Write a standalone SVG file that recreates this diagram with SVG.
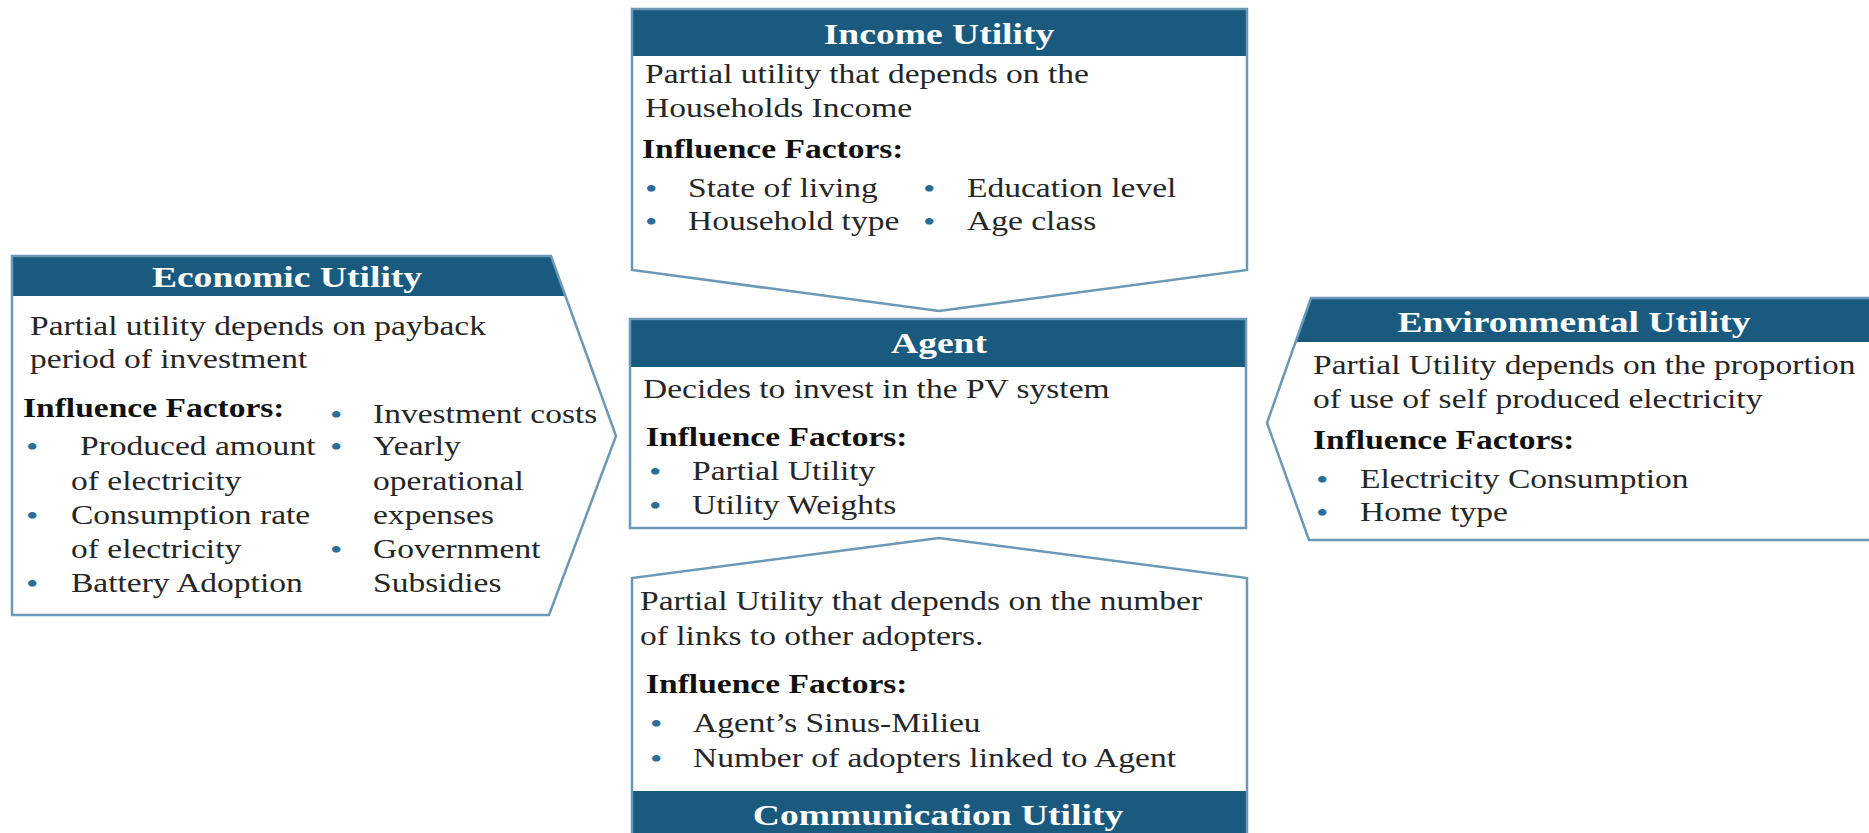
<svg xmlns="http://www.w3.org/2000/svg" width="1869" height="833" viewBox="0 0 1869 833">
<style>
.t{font-family:"Liberation Serif","Times New Roman",serif;font-size:26.5px;fill:#262626}
.b{font-weight:bold;fill:#111}
.h{font-family:"Liberation Serif","Times New Roman",serif;font-size:29.7px;font-weight:bold;fill:#fff;text-anchor:middle}
.d{font-family:"Liberation Serif","Times New Roman",serif;font-size:28px;fill:#2a6e96}
.o{fill:none;stroke:#6a98b6;stroke-width:2.5;stroke-linejoin:miter}
.hd{fill:#1a5a7e}
.bg{fill:#fff}
</style>
<rect width="1869" height="833" fill="#fff"/>
<g id="connectors"></g>

<g id="income">
<polygon class="bg" points="632,9 1247,9 1247,270 939,311 632,270"/>
<rect class="hd" x="632" y="9" width="615" height="47"/>
<polygon class="o" points="632,9 1247,9 1247,270 939,311 632,270"/>
<text class="h" transform="matrix(1.265 0 0 1 939 44)">Income Utility</text>
<text class="t" transform="matrix(1.265 0 0 1 645 83)">Partial utility that depends on the</text>
<text class="t" transform="matrix(1.265 0 0 1 645 117)">Households Income</text>
<text class="t b" transform="matrix(1.265 0 0 1 642 158)">Influence Factors:</text>
<text class="d" transform="matrix(1.265 0 0 1 645 198)">•</text>
<text class="t" transform="matrix(1.265 0 0 1 688 197)">State of living</text>
<text class="d" transform="matrix(1.265 0 0 1 923 198)">•</text>
<text class="t" transform="matrix(1.265 0 0 1 967 197)">Education level</text>
<text class="d" transform="matrix(1.265 0 0 1 645 231)">•</text>
<text class="t" transform="matrix(1.265 0 0 1 688 230)">Household type</text>
<text class="d" transform="matrix(1.265 0 0 1 923 231)">•</text>
<text class="t" transform="matrix(1.265 0 0 1 967 230)">Age class</text>
</g>

<g id="agent">
<rect class="bg" x="630" y="319" width="616" height="209"/>
<rect class="hd" x="630" y="319" width="616" height="48"/>
<rect class="o" x="630" y="319" width="616" height="209"/>
<text class="h" transform="matrix(1.265 0 0 1 939 353)">Agent</text>
<text class="t" transform="matrix(1.265 0 0 1 643 398)">Decides to invest in the PV system</text>
<text class="t b" transform="matrix(1.265 0 0 1 646 446)">Influence Factors:</text>
<text class="d" transform="matrix(1.265 0 0 1 649 481)">•</text>
<text class="t" transform="matrix(1.265 0 0 1 692 480)">Partial Utility</text>
<text class="d" transform="matrix(1.265 0 0 1 649 515)">•</text>
<text class="t" transform="matrix(1.265 0 0 1 692 514)">Utility Weights</text>
</g>

<g id="economic">
<polygon class="bg" points="12,256 551,256 616,436 549,615 12,615"/>
<polygon class="hd" points="12,256 551,256 565.4,296 12,296"/>
<polygon class="o" points="12,256 551,256 616,436 549,615 12,615"/>
<text class="h" transform="matrix(1.265 0 0 1 287 287)">Economic Utility</text>
<text class="t" transform="matrix(1.265 0 0 1 30 335)">Partial utility depends on payback</text>
<text class="t" transform="matrix(1.265 0 0 1 30 368)">period of investment</text>
<text class="t b" transform="matrix(1.265 0 0 1 23 417)">Influence Factors:</text>
<text class="d" transform="matrix(1.265 0 0 1 330 424)">•</text>
<text class="t" transform="matrix(1.265 0 0 1 373 423)">Investment costs</text>
<text class="d" transform="matrix(1.265 0 0 1 26 456)">•</text>
<text class="t" transform="matrix(1.265 0 0 1 80 455)">Produced amount</text>
<text class="d" transform="matrix(1.265 0 0 1 330 456)">•</text>
<text class="t" transform="matrix(1.265 0 0 1 373 455)">Yearly</text>
<text class="t" transform="matrix(1.265 0 0 1 71 490)">of electricity</text>
<text class="t" transform="matrix(1.265 0 0 1 373 490)">operational</text>
<text class="d" transform="matrix(1.265 0 0 1 26 525)">•</text>
<text class="t" transform="matrix(1.265 0 0 1 71 524)">Consumption rate</text>
<text class="t" transform="matrix(1.265 0 0 1 373 524)">expenses</text>
<text class="t" transform="matrix(1.265 0 0 1 71 558)">of electricity</text>
<text class="d" transform="matrix(1.265 0 0 1 330 559)">•</text>
<text class="t" transform="matrix(1.265 0 0 1 373 558)">Government</text>
<text class="d" transform="matrix(1.265 0 0 1 26 593)">•</text>
<text class="t" transform="matrix(1.265 0 0 1 71 592)">Battery Adoption</text>
<text class="t" transform="matrix(1.265 0 0 1 373 592)">Subsidies</text>
</g>

<g id="environmental">
<polygon class="bg" points="1869,298 1311,298 1267,423 1309,540 1869,540"/>
<polygon class="hd" points="1311,298 1869,298 1869,342 1295.5,342"/>
<polyline class="o" points="1869,298 1311,298 1267,423 1309,540 1869,540"/>
<text class="h" transform="matrix(1.265 0 0 1 1574 332)">Environmental Utility</text>
<text class="t" transform="matrix(1.265 0 0 1 1313 374)">Partial Utility depends on the proportion</text>
<text class="t" transform="matrix(1.265 0 0 1 1313 408)">of use of self produced electricity</text>
<text class="t b" transform="matrix(1.265 0 0 1 1313 449)">Influence Factors:</text>
<text class="d" transform="matrix(1.265 0 0 1 1316 489)">•</text>
<text class="t" transform="matrix(1.265 0 0 1 1360 488)">Electricity Consumption</text>
<text class="d" transform="matrix(1.265 0 0 1 1316 522)">•</text>
<text class="t" transform="matrix(1.265 0 0 1 1360 521)">Home type</text>
</g>

<g id="communication">
<polygon class="bg" points="632,833 632,578 939,538 1247,578 1247,833"/>
<rect class="hd" x="632" y="791" width="615" height="44"/>
<polyline class="o" points="632,835 632,578 939,538 1247,578 1247,835"/>
<text class="t" transform="matrix(1.265 0 0 1 640 610)">Partial Utility that depends on the number</text>
<text class="t" transform="matrix(1.265 0 0 1 640 645)">of links to other adopters.</text>
<text class="t b" transform="matrix(1.265 0 0 1 646 693)">Influence Factors:</text>
<text class="d" transform="matrix(1.265 0 0 1 650 733)">•</text>
<text class="t" transform="matrix(1.265 0 0 1 693 732)">Agent’s Sinus-Milieu</text>
<text class="d" transform="matrix(1.265 0 0 1 650 768)">•</text>
<text class="t" transform="matrix(1.265 0 0 1 693 767)">Number of adopters linked to Agent</text>
<text class="h" transform="matrix(1.265 0 0 1 938 825)">Communication Utility</text>
</g>
</svg>
